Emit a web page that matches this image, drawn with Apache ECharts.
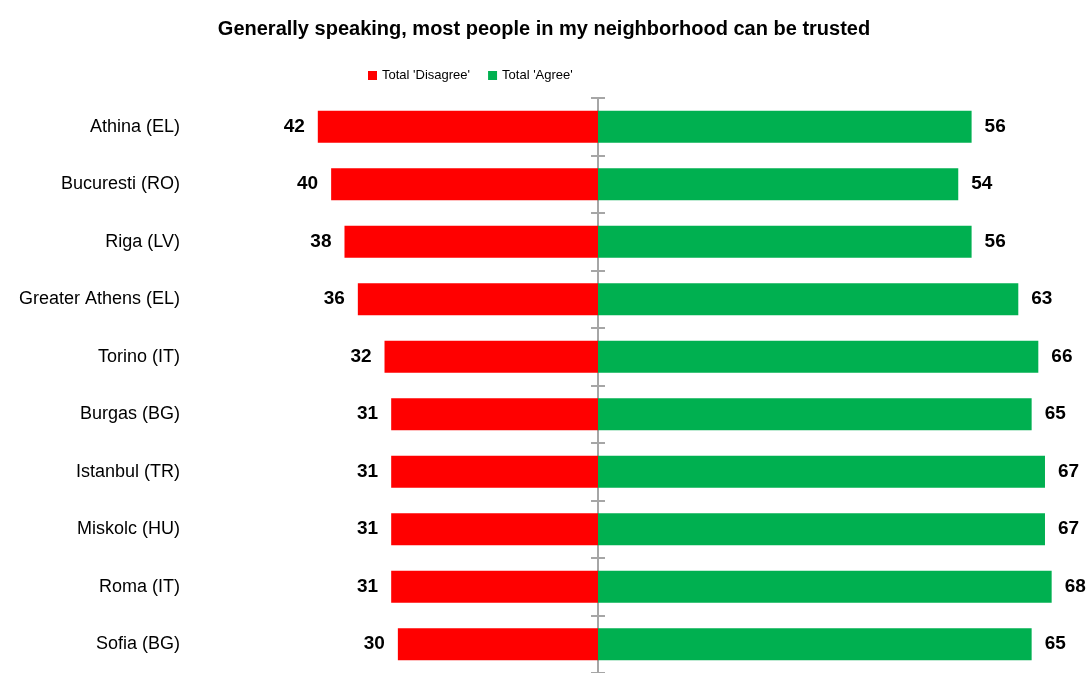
<!DOCTYPE html>
<html><head><meta charset="utf-8">
<script src="https://cdn.jsdelivr.net/npm/echarts@6/dist/echarts.min.js"></script>
<style>html,body{margin:0;padding:0;background:#fff}#c{width:1088px;height:673px}</style>
</head><body><div id="c"></div>
<script>
const categories = ["Athina (EL)","Bucuresti (RO)","Riga (LV)","Greater Athens (EL)","Torino (IT)","Burgas (BG)","Istanbul (TR)","Miskolc (HU)","Roma (IT)","Sofia (BG)"];
const disagree = [42,40,38,36,32,31,31,31,31,30];
const agree = [56,54,56,63,66,65,67,67,68,65];
const titleText = "Generally speaking, most people in my neighborhood can be trusted";
const seriesNames = ["Total 'Disagree'","Total 'Agree'"];

const FONT = '"Liberation Sans Narrow","Arial Narrow","Liberation Sans",Arial,sans-serif';
const chart = echarts.init(document.getElementById('c'), null, {renderer:'canvas'});
chart.setOption({
  animation:false,
  backgroundColor:'#ffffff',
  title:{text:titleText,left:'center',top:14,textStyle:{fontFamily:FONT,fontSize:20,fontWeight:'bold',color:'#000'}},
  legend:{top:64,left:363,itemWidth:9,itemHeight:9,itemGap:18,icon:'rect',
    textStyle:{fontFamily:FONT,fontSize:13,color:'#000'},data:seriesNames},
  grid:{left:131,right:23,top:98,height:580},
  xAxis:{type:'value',min:-70,max:70,show:false},
  yAxis:[
    {type:'category',data:categories,inverse:true,position:'left',offset:-57,
     axisLine:{show:false},axisTick:{show:false},
     axisLabel:{fontFamily:FONT,fontSize:18,color:'#000',margin:8}},
    {type:'category',data:categories,inverse:true,position:'left',offset:-467,
     axisLine:{show:true,onZero:false,lineStyle:{color:'#a6a6a6',width:2}},
     axisTick:{show:true,length:7,inside:false,lineStyle:{color:'#a6a6a6',width:2}},
     axisLabel:{show:false}},
    {type:'category',data:categories,inverse:true,position:'left',offset:-467,
     axisLine:{show:false,onZero:false},
     axisTick:{show:true,length:7,inside:true,lineStyle:{color:'#a6a6a6',width:2}},
     axisLabel:{show:false}}
  ],
  series:[
    {name:seriesNames[0],type:'bar',stack:'t',barWidth:32,yAxisIndex:0,
     itemStyle:{color:'#ff0000'},
     data:disagree.map(v=>-v),
     label:{show:true,position:'left',distance:13,formatter:p=>Math.abs(p.value),
       fontFamily:FONT,fontSize:19,fontWeight:'bold',color:'#000'}},
    {name:seriesNames[1],type:'bar',stack:'t',barWidth:32,yAxisIndex:0,
     itemStyle:{color:'#00b050'},
     data:agree,
     label:{show:true,position:'right',distance:13,
       fontFamily:FONT,fontSize:19,fontWeight:'bold',color:'#000'}}
  ]
});
</script></body></html>
